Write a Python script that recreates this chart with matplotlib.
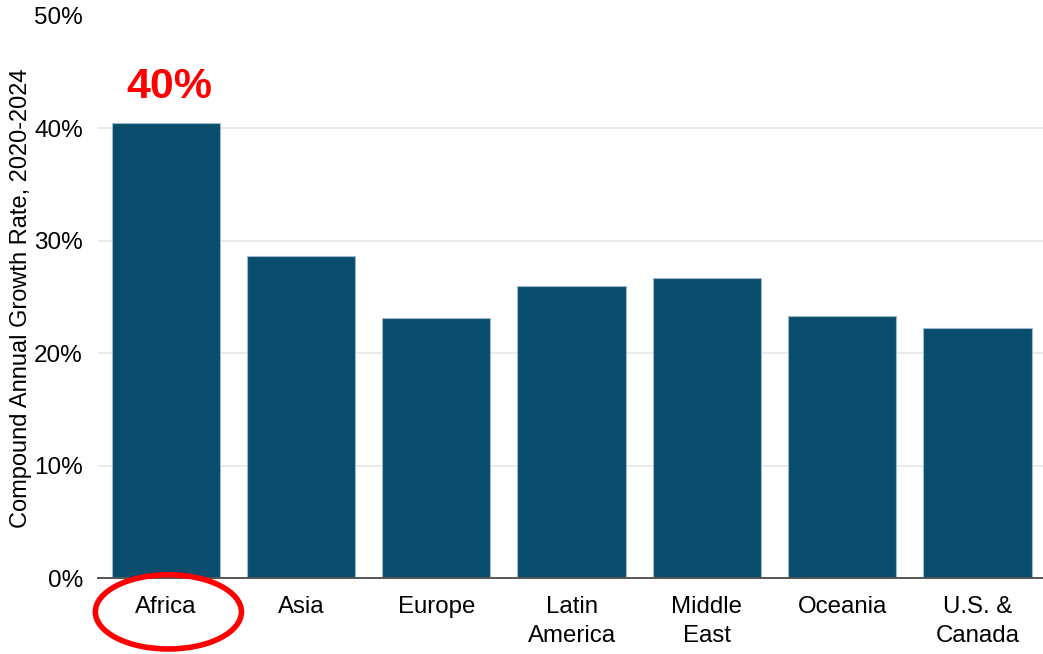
import matplotlib
matplotlib.use('Agg')
import matplotlib.pyplot as plt
import matplotlib.transforms as mtransforms
from matplotlib.patches import Ellipse
from matplotlib.ticker import FuncFormatter

# datos del gráfico
regions = ['Africa', 'Asia', 'Europe', 'Latin\nAmerica', 'Middle\nEast', 'Oceania', 'U.S. &\nCanada']
growth = [40.5, 28.6, 23.1, 26.0, 26.7, 23.3, 22.2]
yticks = [0, 10, 20, 30, 40, 50]
highlight_label = '40%'

plt.rcParams['font.family'] = ['Liberation Sans', 'DejaVu Sans']

fig = plt.figure(figsize=(10.43, 6.54), dpi=100)
ax = fig.add_axes([0.094, 0.116, 0.908, 0.86])

x = list(range(len(regions)))
ax.bar(x, growth, width=0.8, color='#0a4c6c', edgecolor='#9dbacb', linewidth=0.8, zorder=3)

ax.set_xlim(-0.5, 6.5)
ax.set_ylim(0, 50)
ax.set_yticks(yticks)
ax.yaxis.set_major_formatter(FuncFormatter(lambda v, p: f'{v:.0f}%'))
ax.grid(axis='y', color='#e6e6e6', linewidth=1.2, zorder=0)
ax.get_ygridlines()[-1].set_visible(False)
ax.set_xticks(x)
ax.set_xticklabels(regions, fontsize=17.3, linespacing=1.4)
ax.tick_params(axis='y', labelsize=17.5, length=0, pad=11)
ax.tick_params(axis='x', length=0, pad=13)

for s in ['top', 'right', 'left']:
    ax.spines[s].set_visible(False)
ax.spines['bottom'].set_color('#555555')
ax.spines['bottom'].set_linewidth(1.4)
ax.spines['bottom'].set_zorder(4)

ax.set_ylabel('Compound Annual Growth Rate, 2020-2024', fontsize=17)
ax.yaxis.set_label_coords(-0.070, 0.497)

# etiqueta destacada sobre Africa
ax.annotate(highlight_label, xy=(0, growth[0]), xytext=(3, 11), textcoords='offset points',
            ha='center', va='bottom', color='#ff0000', fontsize=31, fontweight='bold')

# elipse roja alrededor de la etiqueta Africa
trans = mtransforms.blended_transform_factory(ax.transData, ax.transAxes)
ell = Ellipse((0.02, -0.06), width=1.08, height=0.132, transform=trans, fill=False,
              edgecolor='#ff0000', linewidth=4, clip_on=False, zorder=5)
ax.add_patch(ell)

fig.savefig('out.png', dpi=100)
